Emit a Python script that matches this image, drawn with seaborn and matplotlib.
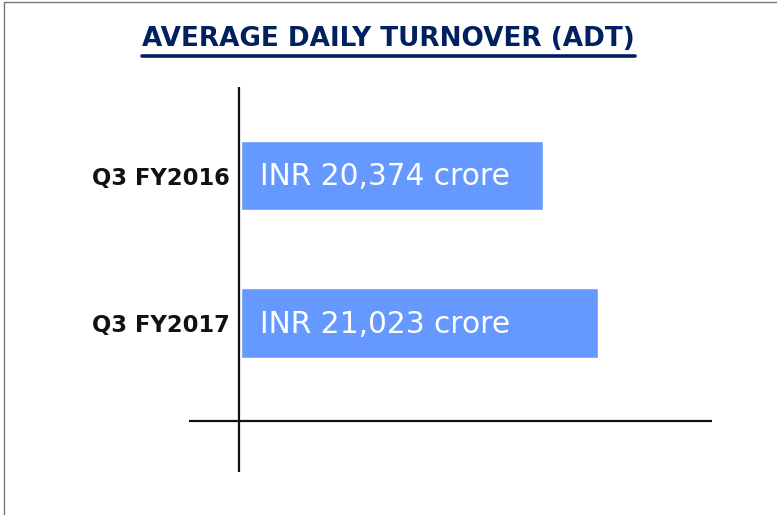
import matplotlib
matplotlib.use("Agg")
import matplotlib.pyplot as plt
import seaborn as sns
import pandas as pd
from matplotlib.lines import Line2D

categories = ["Q3 FY2016", "Q3 FY2017"]
values = [20374, 21023]
axis_base = 16810
title = "AVERAGE DAILY TURNOVER (ADT)"

sns.set_theme(style="white")
plt.rcParams['font.family'] = ['DejaVu Sans']

W, H = 777, 515
fig = plt.figure(figsize=(W / 100, H / 100), dpi=100)

def px_ax(x0, x1, y0, y1):
    return fig.add_axes([x0 / W, 1 - y1 / H, (x1 - x0) / W, (y1 - y0) / H])

ax = px_ax(189, 712, 87, 472)
df = pd.DataFrame({"cat": categories, "len": [v - axis_base for v in values]})
sns.barplot(data=df, x="len", y="cat", orient="h", color="#6699FF", saturation=1,
            width=0.468, ax=ax)
scale = 0.0847
ax.set_xlim(-52 / scale, 471 / scale)
ax.set_ylim(2.01, -0.6)
for s in ax.spines.values():
    s.set_visible(False)
ax.set_xticks([])
ax.set_yticks([])
ax.set_xlabel("")
ax.set_ylabel("")
ax.axvline(-2 / scale, color="#111111", lw=1.6)
ax.axhline(1.664, color="#111111", lw=1.6)

for i, (c, v) in enumerate(zip(categories, values)):
    ax.text(-11 / scale, i + 0.02, c, ha="right", va="center", fontsize=16.3,
            fontweight="bold", color="#111111")
    ax.text(19 / scale, i + 0.01, f"INR {v:,} crore", ha="left", va="center",
            fontsize=21.3, color="white")

t = fig.text(388.5 / W, 1 - 38.5 / H, title, ha="center", va="center",
             fontsize=18.9, fontweight="bold", color="#002060")
fig.canvas.draw()
bb = t.get_window_extent()
yl = 1 - 55.5 / H
fig.add_artist(Line2D([bb.x0 / W, bb.x1 / W], [yl, yl], color="#002060", lw=2.6,
                      transform=fig.transFigure))

# frame border
fig.add_artist(Line2D([4 / W, 4 / W, 1], [0, 1 - 2 / H, 1 - 2 / H], color="#777777",
                      lw=1, transform=fig.transFigure))

fig.savefig("out.png", dpi=100)
